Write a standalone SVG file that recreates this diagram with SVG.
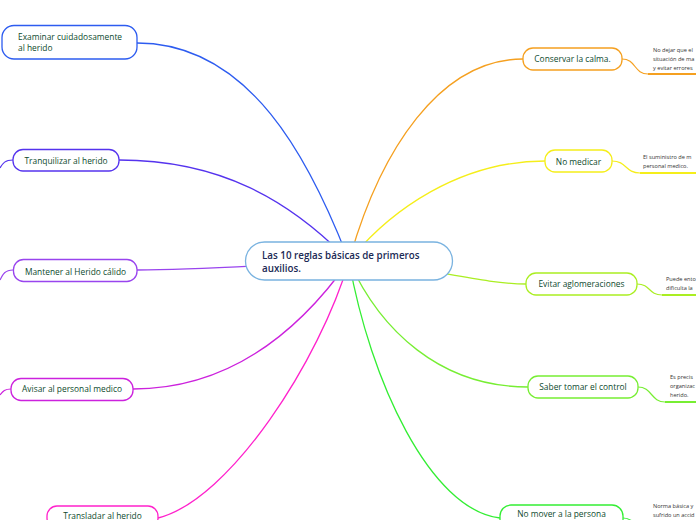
<svg xmlns="http://www.w3.org/2000/svg" width="696" height="520" viewBox="0 0 696 520">
<style>
.n{fill:#fff;stroke-width:1.3}
.t{font-family:"Open Sans","Noto Sans",sans-serif;font-size:8.4px;font-weight:500;fill:#0d4a2e}
.tc{font-family:"Open Sans","Noto Sans",sans-serif;font-size:9.8px;font-weight:600;fill:#1b2a55}
.d{font-family:"Open Sans","Noto Sans",sans-serif;font-size:5.6px;fill:#333}
.c{fill:none;stroke-width:1.3}
.u{fill:none;stroke-width:1.2}
</style>
<g id="connectors">
<path class="c" stroke="#2d5cf0" d="M137,43 C250,43 310,160 349,261"/>
<path class="c" stroke="#5533ee" d="M119,160 C220,160 290,200 349,261"/>
<path class="c" stroke="#9944ee" d="M137,270 C200,270 250,266 349,261"/>
<path class="c" stroke="#cc22dd" d="M133,389 C230,389 300,330 349,261"/>
<path class="c" stroke="#ff22cc" d="M158,518 C230,500 320,360 349,261"/>
<path class="c" stroke="#f5a020" d="M523,59 C440,59 380,150 349,261"/>
<path class="c" stroke="#f5ee1a" d="M545,161 C460,161 390,210 349,261"/>
<path class="c" stroke="#aaee22" d="M526,284 C480,284 420,265 349,261"/>
<path class="c" stroke="#77ee33" d="M528,387 C440,387 380,330 349,261"/>
<path class="c" stroke="#33ee33" d="M500,518 C430,510 370,380 349,261"/>
<path class="u" stroke="#5533ee" d="M13,160 C5,160 3,163 0,168"/>
<path class="u" stroke="#9944ee" d="M13,270 C5,270 3,274 0,280"/>
<path class="u" stroke="#cc22dd" d="M11,389 C5,389 3,391 0,395"/>
<path class="u" stroke="#f5a020" d="M622,59 C636,59 634,74 648,74"/>
<path stroke="#f5a020" stroke-width="2" d="M648,74 L696,74"/>
<path class="u" stroke="#f5ee1a" d="M612,161 C627,161 625,173 640,173"/>
<path stroke="#f5ee1a" stroke-width="2" d="M640,173 L696,173"/>
<path class="u" stroke="#aaee22" d="M637,284 C651,284 648,295 662,295"/>
<path stroke="#aaee22" stroke-width="2" d="M662,295 L696,295"/>
<path class="u" stroke="#77ee33" d="M638,387 C652,387 651,402 665,402"/>
<path stroke="#77ee33" stroke-width="2" d="M665,402 L696,402"/>
<path class="u" stroke="#33ee33" d="M623,518 C633,518 632,524 640,526"/>
</g>
<g id="center">
<rect class="n" x="245.5" y="242" width="207" height="38" rx="19" stroke="#7ab3e0"/>
<text class="tc" x="262" y="259">Las 10 reglas básicas de primeros</text>
<text class="tc" x="262" y="272">auxilios.</text>
</g>
<g id="examinar">
<rect class="n" x="2" y="25.5" width="135" height="33.5" rx="12" stroke="#2d5cf0"/>
<text class="t" x="18" y="40">Examinar cuidadosamente</text>
<text class="t" x="18" y="51">al herido</text>
</g>
<g id="tranquilizar">
<rect class="n" x="13" y="149.5" width="106" height="21.5" rx="10" stroke="#5533ee"/>
<text class="t" x="66" y="164" text-anchor="middle">Tranquilizar al herido</text>
</g>
<g id="mantener">
<rect class="n" x="13.5" y="259.5" width="123.5" height="22" rx="10" stroke="#9944ee"/>
<text class="t" x="75.5" y="275" text-anchor="middle">Mantener al Herido cálido</text>
</g>
<g id="avisar">
<rect class="n" x="11" y="378.5" width="122" height="22" rx="10" stroke="#cc22dd"/>
<text class="t" x="72" y="392" text-anchor="middle">Avisar al personal medico</text>
</g>
<g id="transladar">
<rect class="n" x="47" y="506" width="111" height="22" rx="10" stroke="#ff22cc"/>
<text class="t" x="102.5" y="518.5" text-anchor="middle">Transladar al herido</text>
</g>
<g id="conservar">
<rect class="n" x="523" y="48" width="99" height="22" rx="10" stroke="#f5a020"/>
<text class="t" x="572.5" y="62" text-anchor="middle">Conservar la calma.</text>
<text class="d" x="653" y="52">No dejar que el</text>
<text class="d" x="653" y="61">situación de ma</text>
<text class="d" x="653" y="70">y evitar errores</text>
</g>
<g id="medicar">
<rect class="n" x="545" y="150" width="67" height="22" rx="10" stroke="#f5ee1a"/>
<text class="t" x="578.5" y="165" text-anchor="middle">No medicar</text>
<text class="d" x="643" y="159">El suministro de m</text>
<text class="d" x="643" y="168">personal medico.</text>
</g>
<g id="evitar">
<rect class="n" x="526" y="273" width="111" height="22" rx="10" stroke="#aaee22"/>
<text class="t" x="581.5" y="287" text-anchor="middle">Evitar aglomeraciones</text>
<text class="d" x="666" y="281">Puede ento</text>
<text class="d" x="666" y="290">dificulta la</text>
</g>
<g id="saber">
<rect class="n" x="528" y="376" width="110" height="22" rx="10" stroke="#77ee33"/>
<text class="t" x="583" y="390" text-anchor="middle">Saber tomar el control</text>
<text class="d" x="670" y="379">Es precis</text>
<text class="d" x="670" y="388">organizac</text>
<text class="d" x="670" y="397">herido.</text>
</g>
<g id="nomover">
<rect class="n" x="500" y="505" width="123" height="26" rx="11" stroke="#33ee33"/>
<text class="t" x="561.5" y="517" text-anchor="middle">No mover a la persona</text>
<text class="d" x="653" y="508">Norma básica y</text>
<text class="d" x="653" y="517">sufrido un accid</text>
</g>
</svg>
